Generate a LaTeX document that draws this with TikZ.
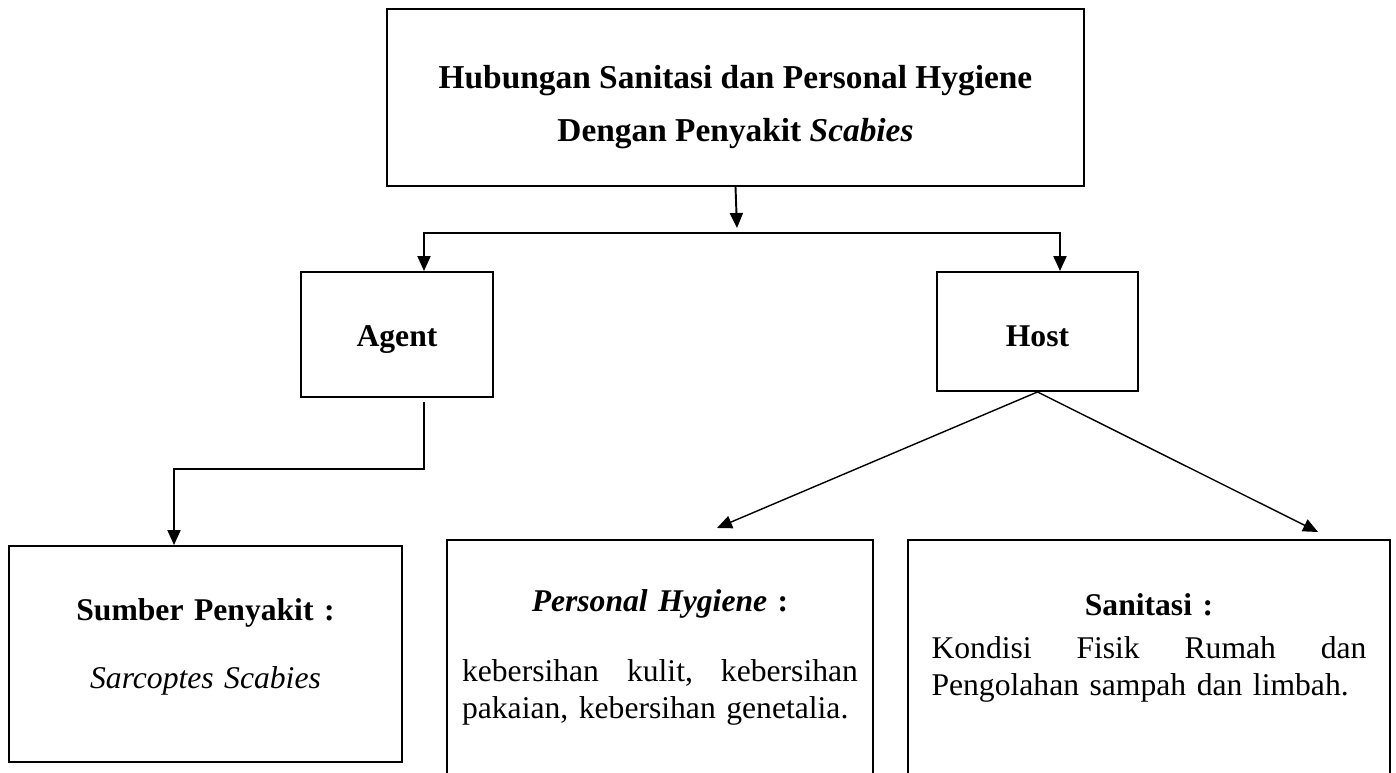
\documentclass[tikz,border=0pt]{standalone}
\usepackage{fontspec}
\setmainfont{Liberation Serif}
\usetikzlibrary{arrows.meta,positioning,calc}

\newcommand{\headfont}{\fontsize{18}{21}\selectfont\bfseries}

\begin{document}
\begin{tikzpicture}[x=0.02cm,y=-0.02cm,
    box/.style={draw,line width=1.1pt,font=\fontsize{18}{21}\selectfont},
    smallbox/.style={box,font=\headfont,text depth=0pt},
    arr/.style={-{Triangle[length=0.3cm,width=0.26cm]},line width=1.1pt},
    thinarr/.style={-{Triangle[length=0.3cm,width=0.26cm]},line width=0.8pt}
  ]
  \clip (0,0) rectangle (1396,773);
  % top box
  \node[box,font=\fontsize{19}{22}\selectfont\bfseries,align=center,
    minimum width=13.94cm,minimum height=3.54cm] (title) at (735.5,97.5)
    {\rule{0pt}{24pt}Hubungan Sanitasi dan Personal Hygiene\\[0.3cm]Dengan Penyakit \textit{Scabies}};
  \node[smallbox,text height=13.7pt,minimum width=3.84cm,minimum height=2.5cm] (agent) at (397,334.5) {Agent};
  \node[smallbox,text height=17.1pt,minimum width=4.02cm,minimum height=2.38cm] (host) at (1037.5,331.5) {Host};
  % bottom boxes
  \node[box,font=\headfont,text width=7.06cm,inner xsep=0.4cm,align=center,minimum height=4.32cm]
    (sumber) at (205.5,654)
    {Sumber Penyakit :\\[0.62cm]\textit{\mdseries Sarcoptes Scabies}\par\vspace{0.28cm}\hrule height 0pt};
  \node[box,text width=7.92cm,inner xsep=0.3cm,align=left,minimum height=5.2cm]
    (personal) at (660,670)
    {\hfill{\headfont\textit{Personal Hygiene} :}\hfill\null\\[0.66cm]
     kebersihan\hfill kulit,\hfill kebersihan\\
     pakaian, kebersihan genetalia.\par\vspace{0.5cm}\hrule height 0pt};
  \node[box,text width=8.7cm,inner xsep=0.47cm,align=left,minimum height=5.2cm]
    (sanitasi) at (1149,670)
    {\hfill{\headfont Sanitasi :}\hfill\null\\[0.12cm]
     Kondisi\hfill Fisik\hfill Rumah\hfill dan\\
     Pengolahan sampah dan limbah.\par\vspace{0.88cm}\hrule height 0pt};

  \coordinate (split) at (737,228);
  \coordinate (lbranch) at (424,233);
  \coordinate (rbranch) at (1060,233);
  \coordinate (agout) at (424,402);
  \coordinate (bend) at (174,469);
  \coordinate (phin) at (717,528);
  \coordinate (sain) at (1318,532);

  \draw[arr] (title.south) -- (split);
  \draw[{Triangle[length=0.3cm,width=0.26cm]}-{Triangle[length=0.3cm,width=0.26cm]},line width=1.1pt]
    (lbranch |- agent.north) -- (lbranch) -- (rbranch) -- (rbranch |- host.north);
  \draw[arr] (agout) |- (bend) -- (bend |- sumber.north);
  \draw[thinarr] (host.south) -- (phin);
  \draw[thinarr] (host.south) -- (sain);
\end{tikzpicture}
\end{document}
